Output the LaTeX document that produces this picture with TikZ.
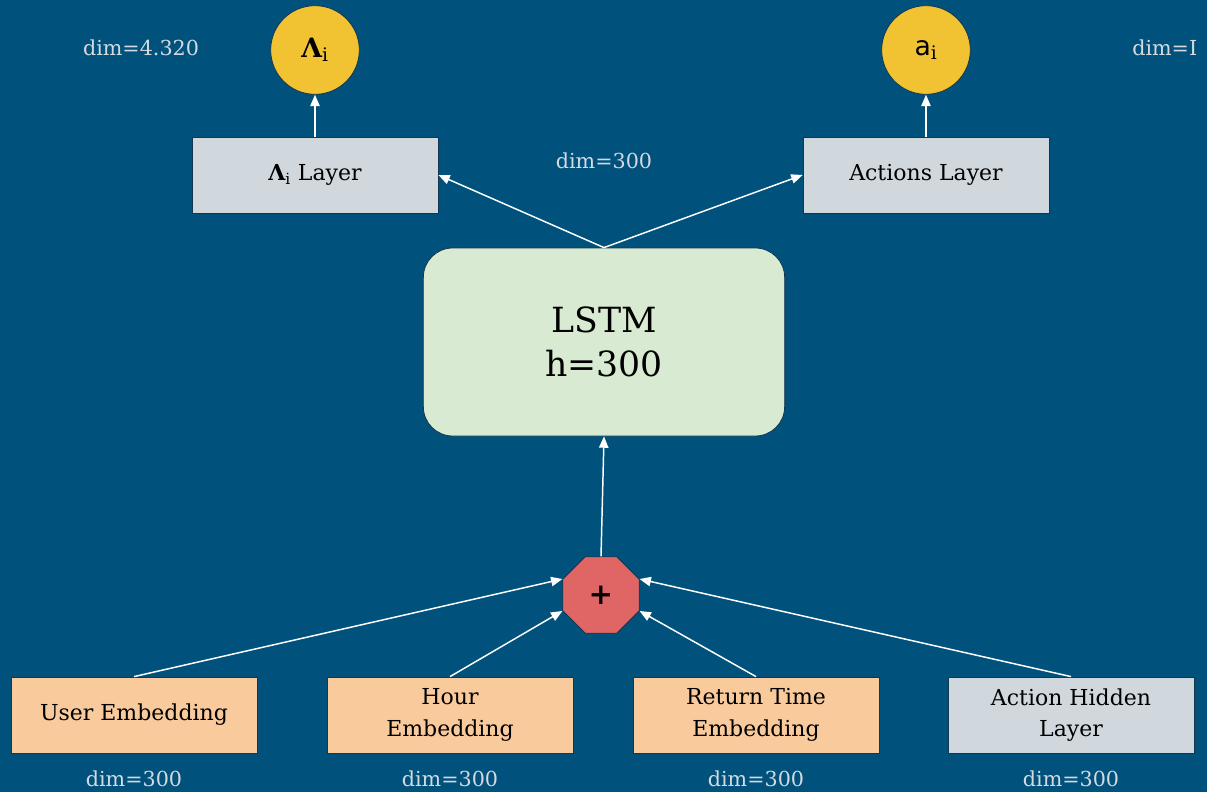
\documentclass[tikz,border=0pt]{standalone}
\usepackage{fontspec}
\setmainfont{DejaVu Serif}
\setsansfont{DejaVu Sans}
\usetikzlibrary{shapes.geometric,arrows.meta}
\definecolor{bg}{RGB}{0,81,124}
\definecolor{edge}{RGB}{20,55,80}
\definecolor{yel}{RGB}{241,194,50}
\definecolor{grey}{RGB}{208,216,222}
\definecolor{green}{RGB}{217,234,211}
\definecolor{orange}{RGB}{249,203,156}
\definecolor{red}{RGB}{224,102,102}
\definecolor{dimc}{RGB}{212,218,224}
\tikzset{
  box/.style={draw=edge, line width=0.6pt, minimum width=184.5pt, minimum height=57pt, inner sep=0pt, align=center, font=\fontsize{16.5}{23.5}\selectfont, text=black},
  greybox/.style={box, fill=grey},
  orangebox/.style={box, fill=orange},
  outnode/.style={circle, draw=edge, line width=0.6pt, fill=yel, minimum size=66.5pt, inner sep=0pt, font=\fontsize{20}{22}\selectfont},
  dimlabel/.style={text=dimc, font=\fontsize{15.5}{19}\selectfont, inner sep=0pt},
  arr/.style={draw=white, line width=1.1pt, -{Triangle[length=8.5pt,width=7pt]}},
}
\begin{document}
\begin{tikzpicture}[x=0.75pt,y=-0.75pt]
\fill[bg] (0,0) rectangle (1207,792);
\useasboundingbox (0,0) rectangle (1207,792);

% outputs
\node[outnode] (lam) at (315,50) {{\bfseries Λ}\textsubscript{i}};
\node[outnode] (ai) at (926,50) {{\sffamily a}\textsubscript{i}};

% top layers
\node[greybox] (laml) at (315,175) {{\bfseries Λ}\textsubscript{i} Layer};
\node[greybox] (actl) at (926,175) {Actions Layer};

% LSTM
\node[draw=edge, line width=0.6pt, fill=green, rounded corners=22pt, minimum width=271pt, minimum height=141pt, align=center, font=\fontsize{26}{33}\selectfont] (lstm) at (604,342) {LSTM\\h=300};

% plus
\node[regular polygon, regular polygon sides=8, draw=edge, line width=0.6pt, fill=red, minimum size=62pt, inner sep=0pt, font=\bfseries\fontsize{22}{24}\selectfont] (plus) at (601,595) {+};

% bottom inputs
\node[orangebox] (user) at (134,715) {User Embedding};
\node[orangebox] (hour) at (450,715) {Hour\\Embedding};
\node[orangebox] (ret) at (756,715) {Return Time\\Embedding};
\node[greybox] (ahid) at (1071,715) {Action Hidden\\Layer};

% dim labels
\node[dimlabel] (d1) at (134,779) {dim=300};
\node[dimlabel] (d2) at (450,779) {dim=300};
\node[dimlabel] (d3) at (756,779) {dim=300};
\node[dimlabel] (d4) at (1071,779) {dim=300};
\node[dimlabel] (d5) at (604,161) {dim=300};
\node[dimlabel] (d6) at (141,48) {dim=4.320};
\node[dimlabel, anchor=west] (d7) at (1132,48) {dim=I};

% connectors
\draw[arr] (laml.north) -- (lam.south);
\draw[arr] (actl.north) -- (ai.south);
\coordinate (lt) at (lstm.north);
\draw[arr] (lt) -- (laml.east);
\draw[arr] (lt) -- (actl.west);
\draw[arr] (plus.north) -- (lstm.south);
\draw[arr] (user.north) -- (plus.corner 3);
\draw[arr] (hour.north) -- (plus.corner 4);
\draw[arr] (ret.north) -- (plus.corner 7);
\draw[arr] (ahid.north) -- (plus.corner 8);
\end{tikzpicture}
\end{document}
